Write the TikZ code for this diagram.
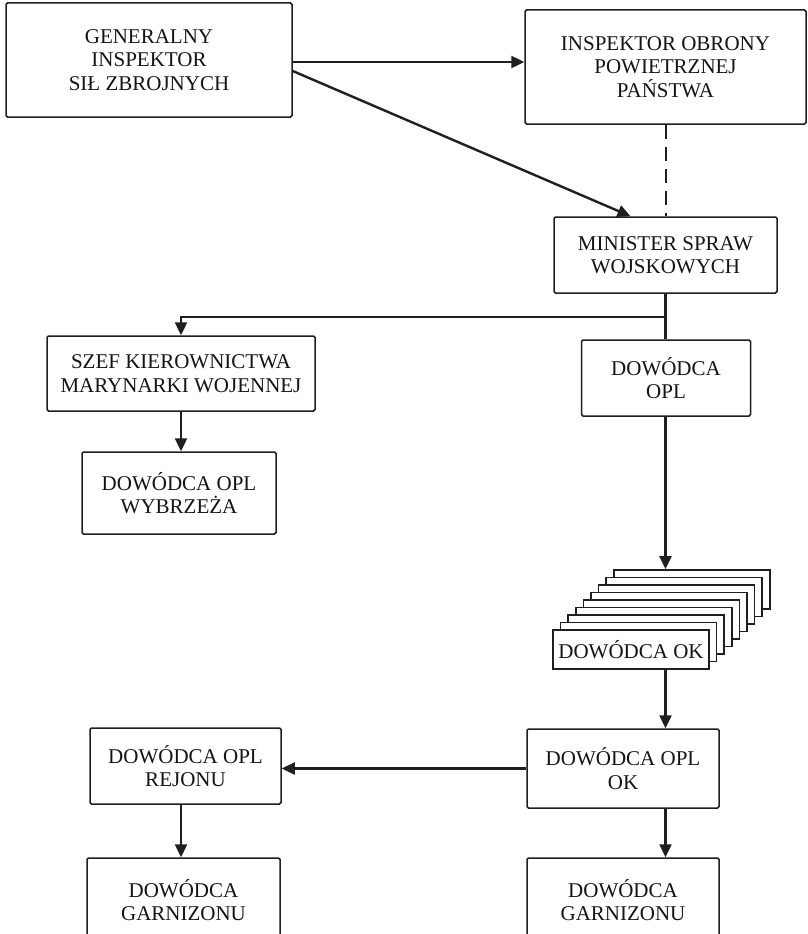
\documentclass[tikz,border=0pt]{standalone}
\usepackage{fontspec}
\setmainfont{Liberation Serif}
\usepackage{tikz}
\usetikzlibrary{positioning,arrows.meta}

\begin{document}
\begin{tikzpicture}[
  x=1pt, y=-1pt,
  font=\fontsize{21}{23.5}\selectfont,
  every node/.style={align=center, inner sep=2pt, text=black!92},
  box/.style   ={draw=black!88, rounded corners=1.5pt, line width=1.5pt, fill=white},
  okbox/.style ={draw=black!88, line width=1.7pt, fill=white,
                 minimum width=156pt, minimum height=39pt},
  arr/.style   ={-{Triangle[length=13pt,width=12pt]}, line width=2.4pt, draw=black!88},
  link/.style  ={line width=2.4pt, draw=black!88},
  dlink/.style ={line width=2pt, draw=black!88, dash pattern=on 14pt off 8pt}
]
\useasboundingbox (0,0) rectangle (807,934);
\clip (0,0) rectangle (807,934);

% --- Top level ---
\node[box, minimum width=286pt, minimum height=114pt] (gis)  at (149,60)
  {GENERALNY\\INSPEKTOR\\SIŁ ZBROJNYCH};
\node[box, minimum width=281pt, minimum height=114pt] (iopp) at (665.5,67)
  {INSPEKTOR OBRONY\\POWIETRZNEJ\\PAŃSTWA};
\node[box, minimum width=223pt, minimum height=76pt]  (msw)  at (665.5,255)
  {MINISTER SPRAW\\WOJSKOWYCH};

% --- Navy branch (left) ---
\node[box, minimum width=268pt, minimum height=75pt]  (szef) at (181,373.5)
  {SZEF KIEROWNICTWA\\MARYNARKI WOJENNEJ};
\node[box, minimum width=194pt, minimum height=82pt]  (wyb)  at (179,493)
  {DOWÓDCA OPL\\WYBRZEŻA};

% --- Air defence column (right) ---
\node[box, minimum width=169pt, minimum height=76pt]  (opl)  at (666,378)
  {DOWÓDCA\\OPL};

% stack of corps commands, drawn back to front
\foreach \i in {8,...,1}
  \node[okbox] (ok\i) at (631+7.6*\i, 649.5-7.5*\i) {};
\node[okbox] (ok) at (631,649.5) {DOWÓDCA OK};

\node[box, minimum width=192pt, minimum height=79pt]  (oplok) at (623,768.5)
  {DOWÓDCA OPL\\OK};
\node[box, minimum width=191pt, minimum height=76pt]  (rejon) at (185.5,766)
  {DOWÓDCA OPL\\REJONU};
\node[box, minimum width=193pt, minimum height=84pt]  (garnL) at (183.5,900)
  {DOWÓDCA\\GARNIZONU};
\node[box, minimum width=192pt, minimum height=84pt]  (garnR) at (623,900)
  {DOWÓDCA\\GARNIZONU};

% --- Connectors ---
\draw[arr]   ([yshift=-2pt]gis.east) -- ([yshift=-2pt]gis.east -| iopp.west);
\draw[arr]   ([yshift=-11pt]gis.east) -- ([xshift=-35pt]msw.north);
\draw[dlink] (iopp.south) -- (msw.north);

\coordinate (split) at ([yshift=-23pt]msw.south);
\draw[link]  (msw.south) -- (msw.south |- opl.north);
\draw[arr]   (split) -| (szef.north);
\draw[arr]   (szef.south) -- (szef.south |- wyb.north);

\draw[arr]   (msw.south |- opl.south) -- (msw.south |- ok8.north);
\draw[arr]   (msw.south |- ok.south) -- (msw.south |- oplok.north);
\draw[arr]   (oplok.west) -- (oplok.west -| rejon.east);
\draw[arr]   (rejon.south -| szef.south) -- (szef.south |- garnL.north);
\draw[arr]   (msw.south |- oplok.south) -- (msw.south |- garnR.north);

\end{tikzpicture}
\end{document}
